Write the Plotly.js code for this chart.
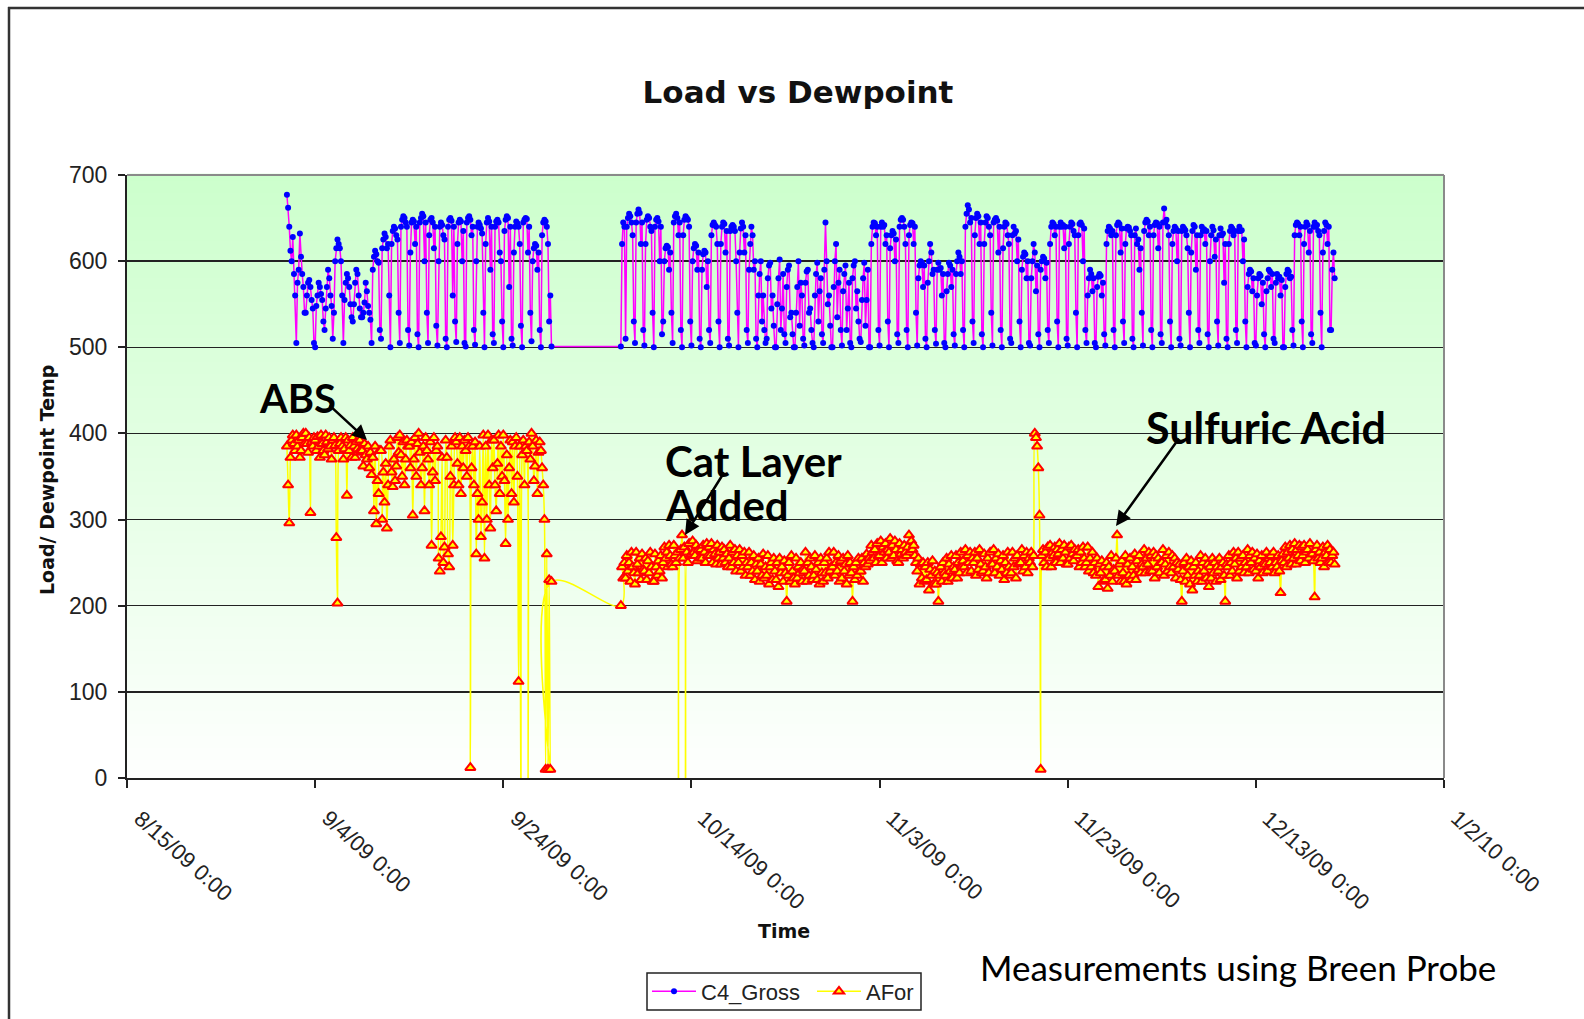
<!DOCTYPE html>
<html><head><meta charset="utf-8">
<script src="https://cdn.plot.ly/plotly-3.0.1.min.js"></script>
<style>html,body{margin:0;padding:0;background:#fff;overflow:hidden}#chart{width:1584px;height:1019px}</style>
</head><body><div id="chart"></div>
<script>
// Readings logged every 3 hours starting 9/1/09 0:00 (one row = one day, null = no reading)
const seriesStartUTC = Date.UTC(2009, 8, 1, 0, 0);
const stepHours = 3;

const c4Gross = [
 677,662,640,612,600,628,585,560,
 505,575,590,632,605,585,570,540,
 540,560,575,578,570,555,545,505,
 500,548,560,575,570,562,555,530,
 520,545,570,590,580,560,548,510,
 540,600,615,625,620,615,600,560,
 505,555,575,585,580,570,550,535,
 530,550,575,590,585,560,545,535,
 535,540,552,575,565,548,540,532,
 505,590,605,612,608,600,598,520,
 510,615,625,632,628,615,620,560,
 500,620,635,640,638,630,625,540,
 505,640,648,652,650,645,640,520,
 502,610,645,648,646,620,640,515,
 500,645,650,655,652,600,645,540,
 505,630,648,650,645,615,640,525,
 502,600,640,645,642,630,625,510,
 500,640,648,650,647,560,640,530,
 506,620,645,648,646,600,635,505,
 501,645,650,652,648,630,640,520,
 503,600,640,645,642,638,632,540,
 500,620,645,650,646,590,640,515,
 505,640,646,648,645,610,600,530,
 500,635,648,652,650,570,640,510,
 502,610,640,646,644,640,620,525,
 500,645,648,650,649,610,640,540,
 507,600,615,620,618,590,610,520,
 500,630,645,648,646,640,620,530,
 560,501,null,null,null,null,null,null,
 null,null,null,null,null,null,null,null,
 null,null,null,null,null,null,null,null,
 null,null,null,null,null,null,null,null,
 null,null,null,null,null,null,null,null,
 null,null,null,null,null,null,null,null,
 null,null,null,null,null,null,null,null,
 null,null,null,null,501,620,645,640,
 510,640,650,655,652,645,630,530,
 505,645,655,660,656,620,645,520,
 502,620,648,652,650,640,635,540,
 500,640,648,650,646,600,640,515,
 530,600,615,618,616,590,610,540,
 505,645,652,655,650,630,645,520,
 500,630,648,652,650,648,640,530,
 502,600,615,620,618,590,610,510,
 500,590,608,612,610,570,600,520,
 505,630,642,645,642,640,620,530,
 500,620,640,645,643,610,635,510,
 502,635,640,642,640,635,600,540,
 500,610,638,645,640,610,630,520,
 505,590,620,640,630,590,600,510,
 500,560,585,600,530,560,520,505,
 510,580,595,598,545,560,525,500,
 500,550,580,602,520,545,585,515,
 505,570,590,595,535,540,515,500,
 500,540,570,600,525,575,560,510,
 502,575,588,590,540,545,520,505,
 500,560,585,598,530,565,580,515,
 505,590,645,600,550,560,525,500,
 500,570,600,620,535,575,590,520,
 502,565,585,595,520,545,575,505,
 500,580,595,600,545,565,530,510,
 506,555,580,598,525,555,590,500,
 500,620,640,645,644,630,640,520,
 502,640,645,640,642,620,630,530,
 500,615,630,635,632,600,625,515,
 505,640,648,650,648,640,620,520,
 500,630,642,645,644,620,640,540,
 502,580,595,600,598,570,595,510,
 500,575,600,620,610,585,590,520,
 504,590,598,590,592,560,585,505,
 500,565,585,598,595,570,590,515,
 502,585,600,610,605,585,600,520,
 500,640,655,665,660,645,650,530,
 505,630,650,655,652,620,645,515,
 500,620,645,652,650,640,630,540,
 502,645,648,650,647,610,640,520,
 500,615,640,645,643,630,620,510,
 505,630,640,632,635,600,625,530,
 500,590,605,610,608,580,600,505,
 502,580,600,620,610,565,595,515,
 500,590,600,605,603,580,598,520,
 505,620,640,645,643,630,640,530,
 500,640,645,640,642,615,640,510,
 502,620,640,645,643,635,630,540,
 500,630,643,645,642,600,638,520,
 505,560,580,590,585,565,580,505,
 500,570,582,585,583,560,575,515,
 502,620,635,640,638,630,635,520,
 500,630,642,645,643,610,638,530,
 505,620,638,640,639,635,630,510,
 500,630,638,620,625,590,615,540,
 502,635,645,648,646,630,640,520,
 500,630,642,645,644,615,640,515,
 505,645,661,645,648,640,630,530,
 500,620,635,640,638,600,635,510,
 502,635,640,638,636,630,615,540,
 500,610,635,642,640,590,630,520,
 505,630,640,635,637,620,635,515,
 500,600,630,640,636,605,625,530,
 502,630,638,630,632,575,620,510,
 500,620,635,640,638,630,635,520,
 505,635,640,635,636,600,625,530,
 500,570,585,590,588,565,580,505,
 502,560,580,585,583,550,575,515,
 500,565,580,590,588,570,585,510,
 505,575,585,580,582,560,578,500,
 500,570,585,590,588,580,582,520,
 502,630,642,645,643,630,640,530,
 500,620,640,645,642,610,635,515,
 505,640,645,640,642,635,630,540,
 500,610,635,645,642,620,640,520,
 520,590,610,580
];

const aFor = [
 385,340,296,372,392,398,388,380,
 398,385,392,372,380,395,400,388,
 400,388,378,395,308,390,385,395,
 392,380,396,385,372,398,388,380,
 375,398,390,382,395,385,370,392,
 395,386,279,203,380,388,395,385,
 370,382,395,328,392,380,386,372,
 395,385,372,390,382,378,392,380,
 380,362,388,375,370,385,360,378,
 352,372,310,385,295,345,330,380,
 380,300,355,320,365,290,340,385,
 392,355,338,370,345,362,395,378,
 398,375,350,390,340,370,392,385,
 385,360,390,305,370,395,350,388,
 400,378,340,360,385,310,395,380,
 370,340,390,270,355,395,345,380,
 385,255,240,280,372,250,268,392,
 372,260,245,350,385,270,340,395,
 390,365,340,395,330,385,360,392,
 380,350,395,385,12,360,385,340,
 390,260,330,300,385,280,320,398,
 255,385,300,398,340,290,392,360,
 392,340,310,365,398,330,385,350,
 398,345,272,375,300,360,392,330,
 390,320,385,395,350,112,385,-60,
 375,392,340,385,380,-60,390,370,
 400,385,345,362,392,330,378,390,
 380,360,340,300,10,260,10,230,
 10,228,null,null,null,null,null,null,
 null,null,null,null,null,null,null,null,
 null,null,null,null,null,null,null,null,
 null,null,null,null,null,null,null,null,
 null,null,null,null,null,null,null,null,
 null,null,null,null,null,null,null,null,
 null,null,null,null,null,null,null,null,
 null,null,null,null,200,245,232,250,
 232,258,240,250,228,262,245,238,
 225,262,248,238,255,230,260,242,
 240,255,230,252,238,262,245,228,
 228,260,245,235,252,240,258,232,
 250,268,255,262,245,270,258,248,
 245,270,258,250,262,-60,255,265,
 282,255,268,-60,262,250,272,258,
 260,275,262,258,270,252,265,255,
 265,255,270,262,250,272,258,268,
 258,272,250,265,260,248,270,255,
 262,248,268,255,265,250,260,245,
 255,270,245,262,250,265,240,258,
 250,265,240,258,245,262,235,250,
 245,262,235,250,240,258,230,248,
 240,255,228,248,235,260,232,245,
 235,258,225,245,250,230,255,240,
 230,250,222,255,238,245,228,252,
 238,205,235,250,228,258,240,232,
 225,255,232,245,238,250,228,242,
 240,262,228,250,235,255,245,230,
 235,258,242,230,250,225,255,238,
 228,250,238,255,232,262,240,245,
 245,262,235,250,240,258,228,252,
 232,255,240,248,225,258,235,250,
 238,205,245,230,250,235,255,240,
 240,255,228,250,245,260,248,255,
 252,270,262,255,265,250,272,258,
 258,275,250,268,262,272,255,265,
 262,278,255,270,258,275,265,252,
 250,272,260,265,255,270,262,258,
 268,282,262,275,265,270,258,250,
 240,255,225,248,232,250,228,245,
 230,250,218,242,235,252,225,240,
 225,238,205,235,245,228,250,238,
 235,255,228,248,240,258,232,245,
 242,258,232,250,238,262,245,252,
 245,265,238,258,250,262,240,255,
 250,262,235,255,242,265,248,238,
 240,260,245,232,255,238,262,248,
 248,265,238,255,245,260,235,252,
 242,258,230,250,238,262,245,235,
 238,262,245,255,232,258,248,250,
 250,265,240,258,245,262,238,255,
 250,262,245,258,400,395,385,360,
 305,10,258,265,250,262,245,268,
 255,270,245,262,258,268,250,265,
 260,272,250,265,255,270,262,248,
 248,268,255,270,260,252,265,258,
 258,265,245,262,250,268,255,245,
 250,268,240,255,245,262,238,250,
 235,255,222,248,238,252,228,245,
 230,250,220,245,235,258,228,242,
 240,255,282,235,248,228,252,238,
 228,258,225,248,235,255,230,245,
 235,260,230,252,242,258,238,248,
 245,265,238,255,248,262,240,258,
 240,262,232,258,245,255,238,250,
 250,265,235,248,258,240,262,245,
 238,258,245,255,232,250,242,248,
 230,205,240,250,228,255,235,245,
 225,252,218,245,235,250,228,240,
 235,258,228,250,240,255,232,248,
 222,245,232,255,238,250,228,245,
 240,255,230,245,250,235,205,248,
 245,258,235,250,240,262,248,255,
 232,262,240,255,245,258,238,250,
 245,265,238,258,250,262,242,255,
 240,260,232,252,245,258,238,250,
 248,262,240,255,250,258,245,262,
 238,250,245,258,240,215,252,260,
 250,268,245,262,255,270,248,265,
 255,272,248,265,258,270,252,268,
 258,270,250,262,265,255,272,260,
 260,252,210,265,270,255,262,250,
 255,268,245,262,258,270,250,265,
 250,258,262,248
];

const tickDates = ['2009-08-15','2009-09-04','2009-09-24','2009-10-14','2009-11-03','2009-11-23','2009-12-13','2010-01-02'];
const tickLabels = ['8/15/09 0:00','9/4/09 0:00','9/24/09 0:00','10/14/09 0:00','11/3/09 0:00','11/23/09 0:00','12/13/09 0:00','1/2/10 0:00'];
const yTicks = [0,100,200,300,400,500,600,700];

const times = c4Gross.map((_, i) => {
  const d = new Date(seriesStartUTC + i * stepHours * 3600000);
  return d.toISOString().slice(0, 16).replace('T', ' ');
});

const W = 1584, H = 1019, L = 127, R = 1444, T = 175, B = 778;
const px = X => (X - L) / (R - L);
const py = Y => (B - Y) / (B - T);

const shapes = [];
const nb = 100;
for (let k = 0; k < nb; k++) {
  const f = (k + 0.5) / nb;
  const r = Math.round(254 - (254 - 204) * f);
  shapes.push({type:'rect', xref:'paper', yref:'paper', x0:0, x1:1, y0:k/nb, y1:(k+1)/nb + 0.002,
    fillcolor:`rgb(${r},255,${r})`, line:{width:0}, layer:'below'});
}
shapes.push({type:'line', xref:'paper', yref:'paper', x0:0, x1:1, y0:1, y1:1, line:{color:'#8a8a8a', width:2}, layer:'above'});
shapes.push({type:'line', xref:'paper', yref:'paper', x0:1, x1:1, y0:0, y1:1, line:{color:'#8a8a8a', width:2}, layer:'above'});
// slide frame
shapes.push({type:'line', xref:'paper', yref:'paper', x0:px(8), x1:px(1584), y0:py(8), y1:py(8), line:{color:'#333', width:2.5}, layer:'above'});
shapes.push({type:'line', xref:'paper', yref:'paper', x0:px(9), x1:px(9), y0:py(7), y1:py(1019), line:{color:'#333', width:2.5}, layer:'above'});
// legend box
shapes.push({type:'rect', xref:'paper', yref:'paper', x0:px(647), x1:px(921), y0:py(1010), y1:py(973), fillcolor:'#fff', line:{color:'#222', width:1.5}, layer:'above'});

const tickFont = {family:'Liberation Sans, Arial, sans-serif', size:23, color:'#222'};
const dateFont = {family:'Liberation Sans, Arial, sans-serif', size:22, color:'#222'};
const cf = s => ({family:'Lato, Carlito, sans-serif', size:s, color:'#000'});
const annotations = [
  {text:'<b>Load/ Dewpoint Temp</b>', textangle:-90, xref:'paper', yref:'paper', x:px(47), y:py(480), showarrow:false,
   xanchor:'center', yanchor:'middle', font:{family:'DejaVu Sans', size:19, color:'#111'}},
  {text:'<b>Time</b>', xref:'paper', yref:'paper', x:px(784), y:py(931), showarrow:false,
   xanchor:'center', yanchor:'middle', font:{family:'DejaVu Sans', size:19, color:'#111'}},
  {text:'<b>ABS</b>', xref:'paper', yref:'paper', x:px(257), y:py(398), showarrow:false, xanchor:'left', yanchor:'middle', font:cf(40)},
  {text:'<b>Cat Layer</b>', xref:'paper', yref:'paper', x:px(663), y:py(461), showarrow:false, xanchor:'left', yanchor:'middle', font:cf(42)},
  {text:'<b>Added</b>', xref:'paper', yref:'paper', x:px(663), y:py(505), showarrow:false, xanchor:'left', yanchor:'middle', font:cf(42)},
  {text:'<b>Sulfuric Acid</b>', xref:'paper', yref:'paper', x:px(1144), y:py(427), showarrow:false, xanchor:'left', yanchor:'middle', font:cf(43)},
  {text:'Measurements using Breen Probe', xref:'paper', yref:'paper', x:px(978), y:py(967), showarrow:false, xanchor:'left', yanchor:'middle',
   font:cf(35)},
  {text:'', xref:'paper', yref:'paper', x:px(367), y:py(440), ax:-39, ay:-36, showarrow:true, arrowhead:2, arrowsize:1.2, arrowwidth:2.5, arrowcolor:'#000'},
  {text:'', xref:'paper', yref:'paper', x:px(685), y:py(535), ax:40, ay:-64, showarrow:true, arrowhead:2, arrowsize:1.2, arrowwidth:2.5, arrowcolor:'#000'},
  {text:'', xref:'paper', yref:'paper', x:px(1116), y:py(526), ax:64, ay:-89, showarrow:true, arrowhead:2, arrowsize:1.2, arrowwidth:2.5, arrowcolor:'#000'}
];
// rotated date labels under each x tick
tickDates.forEach((d, i) => annotations.push({
  text: tickLabels[i], xref:'x', yref:'paper', x:d, y:py(803), xshift:-1, textangle:42,
  xanchor:'left', yanchor:'top', showarrow:false, font:dateFont
}));

const traces = [
  {x:times, y:c4Gross, name:'C4_Gross', type:'scatter', mode:'lines+markers', connectgaps:true,
   line:{color:'#ff00ff', width:1.5}, marker:{color:'#0000ff', size:6, symbol:'circle'}},
  {x:times, y:aFor, name:'AFor', type:'scatter', mode:'lines+markers', connectgaps:true,
   line:{color:'#ffff00', width:1.5, shape:'spline', smoothing:1},
   marker:{color:'#ffff00', size:9, symbol:'triangle-up', line:{color:'#ff0000', width:2}}}
];

const layout = {
  width:W, height:H, margin:{l:L, r:W-R, t:T, b:H-B, pad:0, autoexpand:false},
  paper_bgcolor:'#fff', plot_bgcolor:'rgba(0,0,0,0)',
  title:{text:'<b>Load vs Dewpoint</b>', x:798/W, y:1-92/H, xanchor:'center', yanchor:'middle', xref:'container', yref:'container',
         font:{family:'DejaVu Sans', size:31, color:'#111'}},
  xaxis:{type:'date', range:[tickDates[0], tickDates[tickDates.length-1]], tickmode:'array', tickvals:tickDates, showticklabels:false,
         ticks:'outside', ticklen:8, tickwidth:2, tickcolor:'#222', showline:true, linecolor:'#222', linewidth:2,
         showgrid:false, zeroline:false, automargin:false, fixedrange:true},
  yaxis:{range:[0,700], tickmode:'array', tickvals:yTicks, ticks:'outside', ticklen:7, tickwidth:2, tickcolor:'#222',
         showline:true, linecolor:'#222', linewidth:2, showgrid:true, gridcolor:'#222', gridwidth:1.5, zeroline:false,
         tickfont:tickFont, ticklabelstandoff:6, automargin:false, fixedrange:true},
  showlegend:true,
  legend:{orientation:'h', x:px(647), y:py(991.5), xanchor:'left', yanchor:'middle', borderwidth:0, bgcolor:'rgba(0,0,0,0)',
          font:{family:'Liberation Sans, Arial, sans-serif', size:22, color:'#222'}, itemwidth:44, entrywidth:106, tracegroupgap:0},
  shapes:shapes, annotations:annotations
};

Plotly.newPlot('chart', traces, layout, {staticPlot:true, displayModeBar:false});
</script></body></html>
